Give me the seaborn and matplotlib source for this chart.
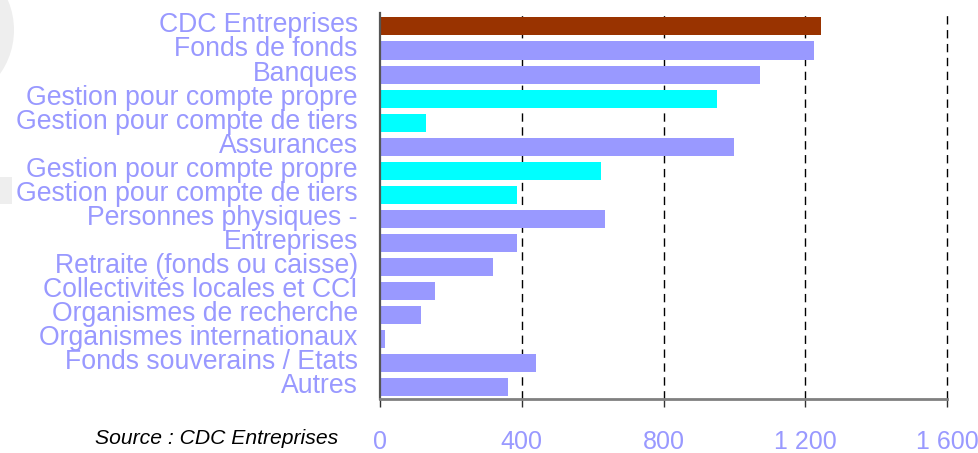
import matplotlib
matplotlib.use("Agg")
import matplotlib.pyplot as plt
import matplotlib.transforms as mtransforms
import seaborn as sns
import pandas as pd
from matplotlib.patches import Circle, Rectangle

categories = [
    "CDC Entreprises",
    "Fonds de fonds",
    "Banques",
    "Gestion pour compte propre",
    "Gestion pour compte de tiers",
    "Assurances",
    "Gestion pour compte propre",
    "Gestion pour compte de tiers",
    "Personnes physiques -",
    "Entreprises",
    "Retraite (fonds ou caisse)",
    "Collectivités locales et CCI",
    "Organismes de recherche",
    "Organismes internationaux",
    "Fonds souverains / Etats",
    "Autres",
]
values = [1244, 1225, 1072, 951, 130, 999, 624, 387, 635, 387, 319, 155, 116, 14, 440, 361]
groups = ["cdc", "main", "main", "sub", "sub", "main", "sub", "sub",
          "main", "main", "main", "main", "main", "main", "main", "main"]
x_ticks = [0, 400, 800, 1200, 1600]
x_tick_labels = ["0", "400", "800", "1 200", "1 600"]
source_text = "Source : CDC Entreprises"

group_colors = {"cdc": "#993300", "main": "#9999FF", "sub": "#00FFFF"}
label_color = "#9999FF"

sns.set_theme(style="white")
plt.rcParams["font.family"] = ["Liberation Sans", "DejaVu Sans"]

keys = [f"{i:02d}" for i in range(len(categories))]
df = pd.DataFrame({"key": keys, "value": values, "group": groups})

W, H = 979, 453
fig = plt.figure(figsize=(W / 100, H / 100), dpi=100)
fig.patch.set_facecolor("white")

# faint background decorations at the left edge (pixel coordinates)
pix = mtransforms.Affine2D().scale(1.0 / W, 1.0 / H) + fig.transFigure
fig.patches.append(Circle((-62, H - 30), 76, transform=pix,
                          facecolor="#EEEEEE", edgecolor="none", zorder=0))
fig.patches.append(Rectangle((0, H - 204), 12, 27, transform=pix,
                             facecolor="#EEEEEE", edgecolor="none", zorder=0))

ax = fig.add_axes([380 / W, 1 - 399 / H, (947 - 380) / W, (399 - 13) / H])
ax.set_facecolor("none")

sns.barplot(data=df, x="value", y="key", hue="group", palette=group_colors,
            order=keys, dodge=False, legend=False, width=0.75, ax=ax,
            saturation=1, edgecolor="none", orient="h", zorder=2)

ax.set_xlim(0, 1600)
ax.set_ylim(len(categories) - 0.5, -0.56)
ax.set_xticks(x_ticks)
ax.set_xticklabels(x_tick_labels)
ax.set_yticks(range(len(categories)))
ax.set_yticklabels(categories)
ax.set_xlabel("")
ax.set_ylabel("")

for x in x_ticks[1:]:
    ax.axvline(x, color="black", linestyle=(0, (6, 4)), linewidth=1.0,
               zorder=1, clip_on=False)

for s in ["top", "right"]:
    ax.spines[s].set_visible(False)
ax.spines["left"].set_color("#555555")
ax.spines["left"].set_linewidth(1.6)
ax.spines["bottom"].set_color("#808080")
ax.spines["bottom"].set_linewidth(2.0)

ax.tick_params(axis="y", length=0, pad=16, labelsize=19.2, labelcolor=label_color)
ax.tick_params(axis="x", direction="out", length=6, width=1, color="#333333",
               pad=16, labelsize=18, labelcolor=label_color, bottom=True)

shift_up = mtransforms.ScaledTranslation(0, 4 / 100, fig.dpi_scale_trans)
for lab in ax.get_yticklabels():
    lab.set_transform(lab.get_transform() + shift_up)

fig.text(338 / W, 1 - 438 / H, source_text, ha="right", va="center",
         fontsize=15.2, style="italic", color="black")

fig.savefig("out.png", dpi=100, facecolor="white")
